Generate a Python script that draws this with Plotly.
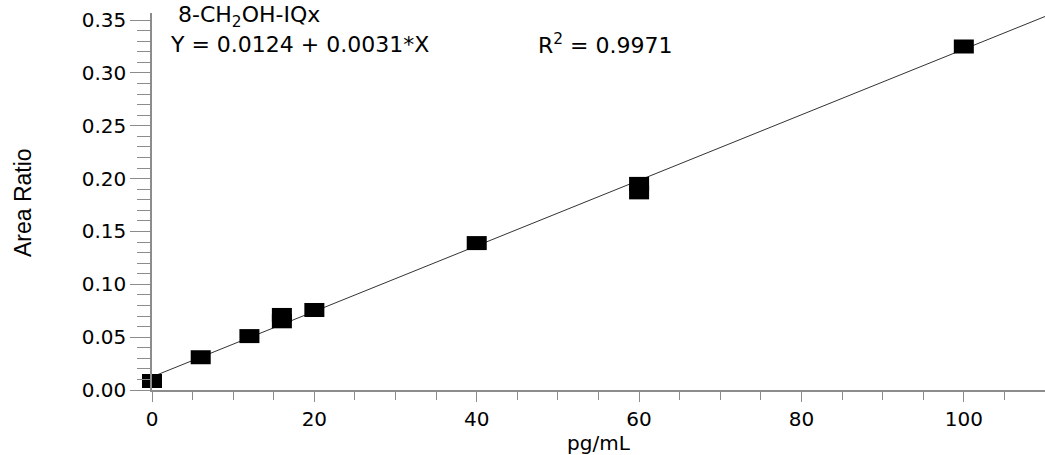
import plotly.graph_objects as go

# data
conc = [0, 6, 12, 16, 16, 20, 40, 60, 60, 100]
area_ratio = [0.0085, 0.031, 0.051, 0.065, 0.071, 0.0757, 0.139, 0.187, 0.195, 0.325]
intercept = 0.0124
slope = 0.0031
fit_x = [0, 110]
fit_y = [intercept + slope * v for v in fit_x]

x_ticks = [0, 20, 40, 60, 80, 100]
y_ticks = [0.0, 0.05, 0.10, 0.15, 0.20, 0.25, 0.30, 0.35]

AX = "#8c8c8c"
WIDE = "DejaVu Sans, Verdana, sans-serif"

fig = go.Figure()
fig.add_trace(go.Scatter(x=fit_x, y=fit_y, mode="lines",
                         line=dict(color="#333333", width=1), cliponaxis=False,
                         hoverinfo="skip"))
# wide rectangular markers (horizontal bar of thick stroke)
fig.add_trace(go.Scatter(x=conc, y=area_ratio, mode="markers",
                         marker=dict(symbol="line-ew", size=14.3, color="black",
                                     line=dict(color="black", width=14)),
                         cliponaxis=False))

fig.update_layout(
    width=1045, height=455,
    margin=dict(l=152, r=0, t=13, b=65),
    paper_bgcolor="white", plot_bgcolor="white",
    showlegend=False,
    font=dict(family=WIDE, size=18, color="black"),
    xaxis=dict(range=[0, 110], tickvals=x_ticks, ticks="outside", ticklen=10,
               tickcolor=AX, showline=True, linecolor=AX, linewidth=1.5,
               showgrid=False, zeroline=False,
               minor=dict(dtick=5, ticks="outside", ticklen=8, tickcolor=AX),
               tickfont=dict(family=WIDE, size=20),
               title=dict(text="pg/mL", font=dict(family=WIDE, size=20), standoff=0)),
    yaxis=dict(range=[0, 0.3567], tickvals=y_ticks, tickformat=".2f", ticks="outside",
               ticklen=20, tickcolor=AX, showline=True, linecolor=AX,
               linewidth=1.5, showgrid=False, zeroline=False,
               minor=dict(dtick=0.01, ticks="outside", ticklen=13, tickcolor=AX),
               tickfont=dict(family=WIDE, size=20)),
)

# y-axis title placed as rotated text
fig.add_annotation(x=-129 / 893, y=0.496, xref="paper", yref="paper",
                   xanchor="center", yanchor="middle", textangle=-90, showarrow=False,
                   text="Area Ratio",
                   font=dict(family="Liberation Sans Narrow, Arial Narrow, sans-serif",
                             size=23, color="black"))

fig.add_annotation(x=24 / 893, y=(390 - 17) / 377, xref="paper", yref="paper",
                   xanchor="left", yanchor="middle", showarrow=False,
                   font=dict(family=WIDE, size=22, color="black"),
                   text="8-CH<sub>2</sub>OH-IQx")
fig.add_annotation(x=16 / 893, y=(390 - 44) / 377, xref="paper", yref="paper",
                   xanchor="left", yanchor="middle", showarrow=False,
                   font=dict(family=WIDE, size=22, color="black"),
                   text="Y = 0.0124 + 0.0031*X")
fig.add_annotation(x=384 / 893, y=(390 - 44) / 377, xref="paper", yref="paper",
                   xanchor="left", yanchor="middle", showarrow=False,
                   font=dict(family=WIDE, size=22, color="black"),
                   text="R<sup>2</sup> = 0.9971")

fig.write_html("out.html")
